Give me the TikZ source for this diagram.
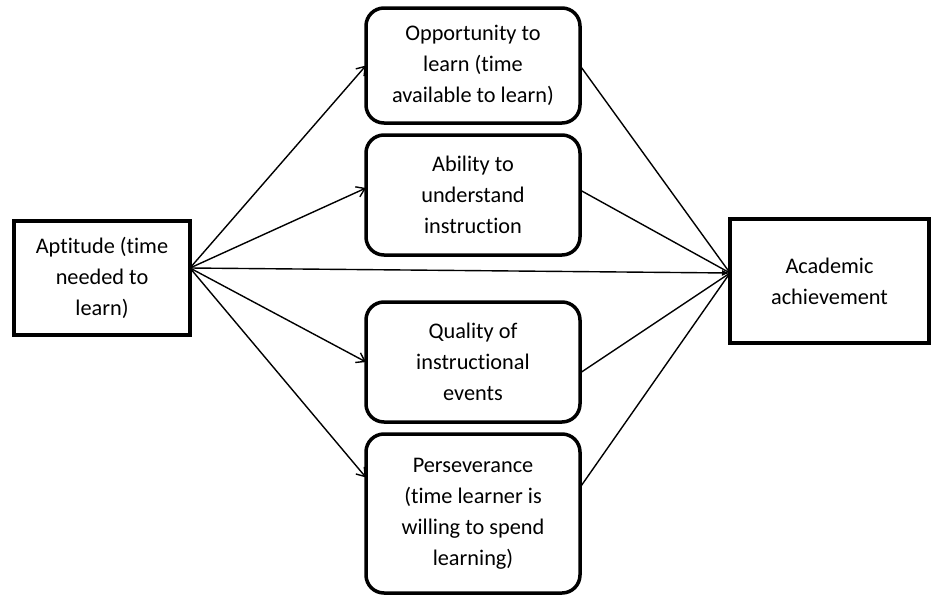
\documentclass[tikz,border=0pt]{standalone}
\usepackage{fontspec}
\setmainfont{Carlito}[Ligatures=NoCommon]
\usetikzlibrary{arrows.meta,positioning}

\begin{document}
\begin{tikzpicture}[
  x=1pt,y=-1pt,
  node distance=12pt,
  sq/.style={draw,line width=3.5pt,inner sep=0pt,outer sep=0pt,
    align=center,font=\fontsize{22.3}{31}\selectfont},
  rd/.style={sq,rounded corners=18pt,minimum width=214pt},
  a/.style={-{Straight Barb[length=8pt,width=11pt]},line width=1.4pt},
  l/.style={line width=1.4pt}
]
  \useasboundingbox (0,0) rectangle (945,608);
  \node[rd,minimum height=115pt] (opp) at (473,65.5) {Opportunity to\\learn (time\\available to learn)};
  \node[rd,minimum height=120pt,below=of opp] (abl) {Ability to\\understand\\instruction};
  \node[rd,minimum height=120pt,below=47pt of abl] (qual) {Quality of\\instructional\\events};
  \node[rd,minimum height=159pt,below=of qual] (pers) {Perseverance\\(time learner is\\willing to spend\\learning)};
  \node[sq,minimum width=176pt,minimum height=114pt] (apt) at (102,278) {Aptitude (time\\needed to\\learn)};
  \node[sq,minimum width=199pt,minimum height=124pt] (ach) at (829.5,281) {Academic\\achievement};
  \coordinate (src) at ([yshift=10pt]apt.east);
  \coordinate (dst) at ([yshift=8pt]ach.west);
  \foreach \t/\i/\o in {opp/0/0,abl/7/5,qual/0/-11,pers/36/26}
    {\draw[a] (src) -- ([yshift=\i pt]\t.west);
     \draw[l] ([yshift=\o pt]\t.east) -- (dst);}
  \draw[l,-{Latex[length=8pt,width=6pt]}] (src) -- (dst);
\end{tikzpicture}
\end{document}
